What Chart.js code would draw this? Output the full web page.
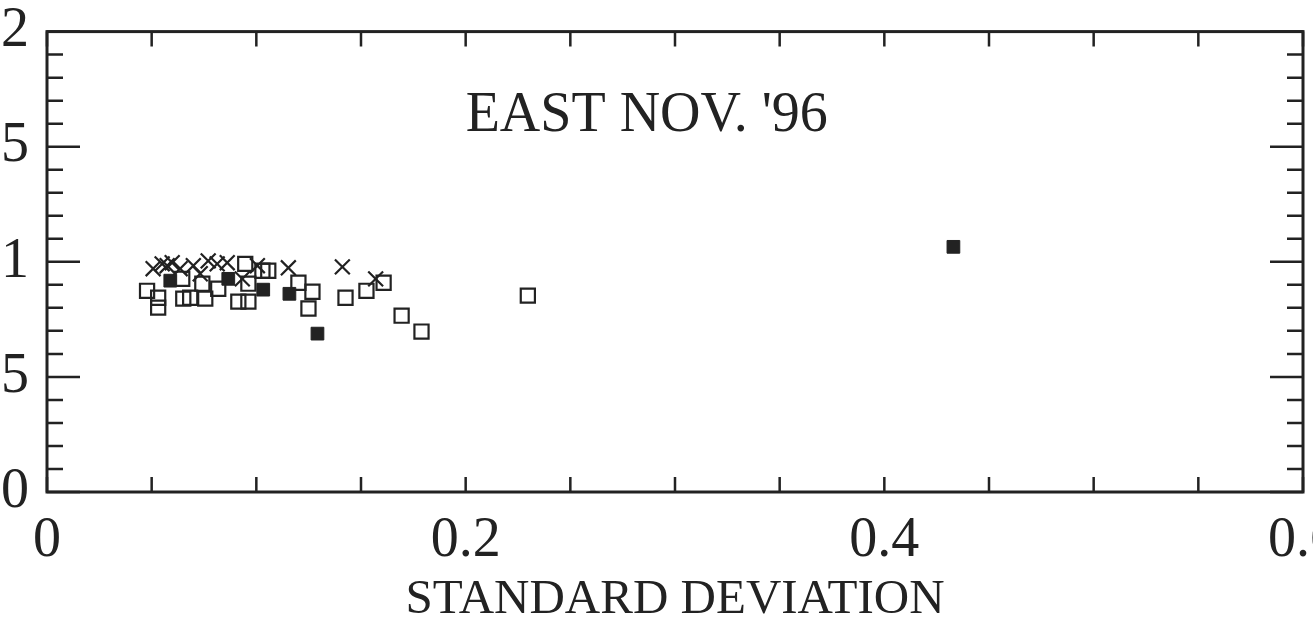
<!DOCTYPE html>
<html>
<head>
<meta charset="utf-8">
<script src="https://cdn.jsdelivr.net/npm/chart.js@4.4.0/dist/chart.umd.min.js"></script>
<style>
    html, body { margin: 0; padding: 0; background: #fff; overflow: hidden; }
    #wrap { position: absolute; left: -80px; top: -20px; width: 1440px; height: 650px; }
</style>
</head>
<body>
<div id="wrap"><canvas id="myChart" width="1440" height="650"></canvas></div>
<script>
// open squares
var openX = [0.0478, 0.0531, 0.0531, 0.0646, 0.0651, 0.0684, 0.0742, 0.0756, 0.0818, 0.0947,
    0.0962, 0.0914, 0.0962, 0.1029, 0.1057, 0.1201, 0.1249, 0.1268, 0.1426, 0.1526,
    0.1608, 0.1694, 0.1789, 0.2297];
var openY = [0.874, 0.844, 0.801, 0.926, 0.840, 0.844, 0.905, 0.840, 0.883, 0.991,
    0.905, 0.827, 0.827, 0.961, 0.961, 0.909, 0.797, 0.870, 0.844, 0.874,
    0.909, 0.766, 0.697, 0.853];

// filled squares
var filledX = [0.0589, 0.0866, 0.1033, 0.1158, 0.1292, 0.433];
var filledY = [0.918, 0.926, 0.879, 0.861, 0.688, 1.065];

// crosses
var crossX = [0.0507, 0.055, 0.0574, 0.0598, 0.0636, 0.0699, 0.0732, 0.077, 0.0813, 0.0861,
    0.0933, 0.1005, 0.1153, 0.1411, 0.157];
var crossY = [0.970, 0.991, 0.983, 0.996, 0.970, 0.983, 0.948, 1.004, 0.991, 0.996,
    0.926, 0.983, 0.974, 0.978, 0.926];

var xTickValues = [0, 0.05, 0.1, 0.15, 0.2, 0.25, 0.3, 0.35, 0.4, 0.45, 0.5, 0.55, 0.6];
var yTickValues = [0, 0.1, 0.2, 0.3, 0.4, 0.5, 0.6, 0.7, 0.8, 0.9, 1, 1.1, 1.2, 1.3, 1.4, 1.5, 1.6, 1.7, 1.8, 1.9, 2];
var yTickLabels = {0: '0', 0.5: '.5', 1: '1', 1.5: '1.5', 2: '2'};
var chartTitle = "EAST NOV. '96";
var xTitle = 'STANDARD DEVIATION';

var ink = '#222';
var serif = "'Liberation Serif', 'DejaVu Serif', serif";

function toPoints(xs, ys) {
    return xs.map(function (x, i) {
        return {x: x, y: ys[i]};
    });
}

var framePlugin = {
    id: 'frame',
    afterDraw: function (chart) {
        var ctx = chart.ctx;
        var a = chart.chartArea;
        var xs = chart.scales.x;
        var ys = chart.scales.y;
        ctx.save();
        ctx.strokeStyle = ink;
        ctx.lineWidth = 3;
        ctx.strokeRect(a.left, a.top, a.right - a.left, a.bottom - a.top);

        ctx.lineWidth = 2.5;
        ctx.beginPath();
        xTickValues.forEach(function (v) {
            var px = xs.getPixelForValue(v);
            ctx.moveTo(px, a.bottom);
            ctx.lineTo(px, a.bottom - 15);
            ctx.moveTo(px, a.top);
            ctx.lineTo(px, a.top + 15);
        });
        yTickValues.forEach(function (v, i) {
            var py = ys.getPixelForValue(v);
            var len = (i % 5 === 0) ? 33 : 16;
            ctx.moveTo(a.left, py);
            ctx.lineTo(a.left + len, py);
            ctx.moveTo(a.right, py);
            ctx.lineTo(a.right - len, py);
        });
        ctx.stroke();

        ctx.fillStyle = ink;
        ctx.font = '56px ' + serif;
        ctx.textAlign = 'center';
        ctx.textBaseline = 'middle';
        ctx.fillText(chartTitle, xs.getPixelForValue(0.2865), ys.getPixelForValue(1.63));
        ctx.restore();
    }
};

var ctx = document.getElementById('myChart').getContext('2d');
var myChart = new Chart(ctx, {
    type: 'scatter',
    data: {
        datasets: [
            {
                label: 'open',
                data: toPoints(openX, openY),
                pointStyle: 'rect',
                pointRadius: 10,
                borderColor: ink,
                backgroundColor: 'rgba(0,0,0,0)',
                borderWidth: 2.2
            },
            {
                label: 'filled',
                data: toPoints(filledX, filledY),
                pointStyle: 'rect',
                pointRadius: 9,
                borderColor: ink,
                backgroundColor: ink,
                borderWidth: 1
            },
            {
                label: 'cross',
                data: toPoints(crossX, crossY),
                pointStyle: 'crossRot',
                pointRadius: 10.5,
                borderColor: ink,
                borderWidth: 2.2
            }
        ]
    },
    options: {
        responsive: false,
        animation: false,
        events: [],
        layout: {
            padding: {top: 10, right: 57, left: 0, bottom: 0}
        },
        plugins: {
            legend: {display: false},
            tooltip: {enabled: false}
        },
        scales: {
            x: {
                type: 'linear',
                min: 0,
                max: 0.6,
                grid: {display: false, drawTicks: false},
                border: {display: false},
                ticks: {
                    stepSize: 0.2,
                    padding: 16,
                    color: ink,
                    font: {family: serif, size: 56},
                    maxRotation: 0,
                    callback: function (value) {
                        return value === 0 ? '0' : String(Math.round(value * 10) / 10);
                    }
                },
                title: {
                    display: true,
                    text: xTitle,
                    color: ink,
                    font: {family: serif, size: 49},
                    padding: {top: 0, bottom: 0}
                },
                afterFit: function (scale) {
                    scale.height = 138;
                }
            },
            y: {
                type: 'linear',
                min: 0,
                max: 2,
                grid: {display: false, drawTicks: false},
                border: {display: false},
                ticks: {
                    stepSize: 0.5,
                    padding: 18,
                    color: ink,
                    font: {family: serif, size: 56},
                    callback: function (value) {
                        return yTickLabels[value];
                    }
                },
                afterFit: function (scale) {
                    scale.width = 127;
                }
            }
        }
    },
    plugins: [framePlugin]
});
</script>
</body>
</html>
